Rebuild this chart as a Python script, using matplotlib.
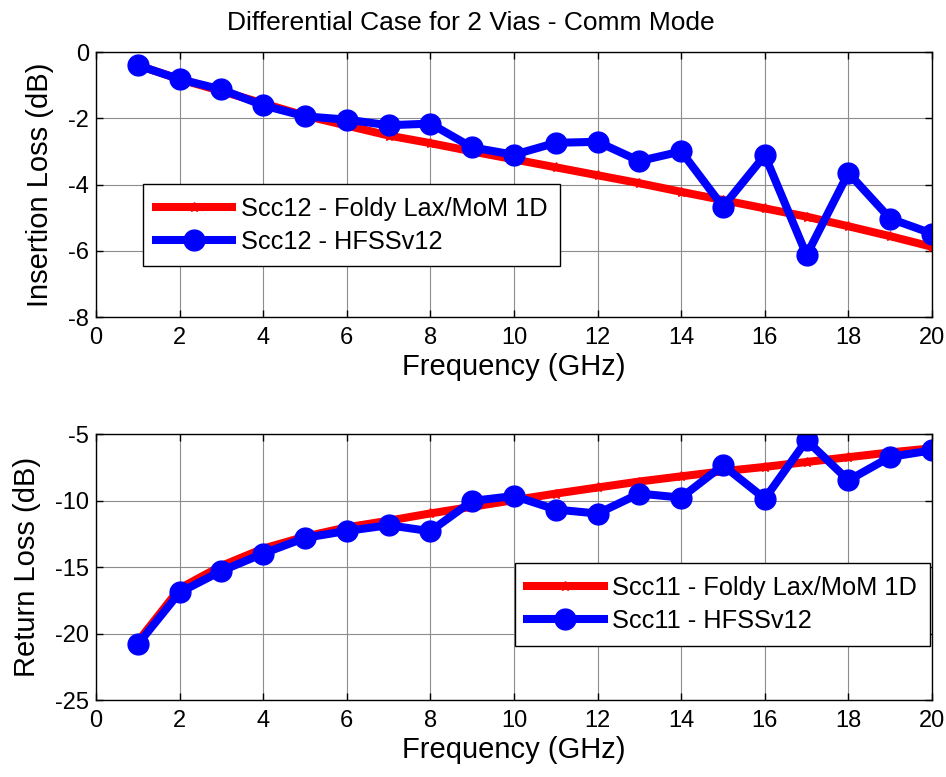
import matplotlib
matplotlib.use("Agg")
import matplotlib.pyplot as plt

plt.rcParams['font.family'] = ['Liberation Sans', 'DejaVu Sans']
plt.rcParams['axes.unicode_minus'] = False

freq = list(range(1, 21))

# Insertion loss (dB)
scc12Foldy = [-0.40, -0.82, -1.18, -1.55, -1.92, -2.22, -2.52, -2.75, -3.00, -3.24,
              -3.48, -3.72, -3.96, -4.22, -4.47, -4.72, -4.97, -5.26, -5.56, -5.88]
scc12Hfss = [-0.40, -0.82, -1.13, -1.61, -1.94, -2.04, -2.21, -2.16, -2.88, -3.10,
             -2.74, -2.71, -3.29, -3.00, -4.67, -3.12, -6.13, -3.65, -5.03, -5.48]

# Return loss (dB)
scc11Foldy = [-20.6, -16.6, -14.9, -13.6, -12.7, -12.0, -11.5, -10.95, -10.45, -9.95,
              -9.46, -9.00, -8.55, -8.16, -7.78, -7.45, -7.08, -6.72, -6.36, -6.05]
scc11Hfss = [-20.8, -16.9, -15.28, -13.97, -12.79, -12.27, -11.84, -12.29, -10.01, -9.64,
             -10.66, -10.96, -9.46, -9.76, -7.33, -9.84, -5.45, -8.46, -6.70, -6.20]

xTicks = list(range(0, 21, 2))
topTicks = [0, -2, -4, -6, -8]
bottomTicks = [-5, -10, -15, -20, -25]

fig = plt.figure(figsize=(9.46, 7.77), dpi=100)
fig.patch.set_facecolor('white')

axTop = fig.add_axes([0.1015, 0.592, 0.8837, 0.341])
axBottom = fig.add_axes([0.1015, 0.099, 0.8837, 0.342])


def styleAxis(ax, yTicks, yLim, ylabel):
    ax.set_xlim(0, 20)
    ax.set_ylim(*yLim)
    ax.set_xticks(xTicks)
    ax.set_yticks(yTicks)
    ax.grid(True, color='#8c8c8c', linestyle='-', linewidth=0.8)
    ax.set_axisbelow(True)
    ax.tick_params(direction='in', length=5, width=1, top=True, right=True,
                   labelsize=17, colors='black')
    ax.tick_params(axis='x', pad=7)
    ax.tick_params(axis='y', pad=5)
    for spine in ax.spines.values():
        spine.set_linewidth(1.0)
        spine.set_color('black')
    ax.set_xlabel('Frequency (GHz)', fontsize=21, labelpad=3)
    ax.set_ylabel(ylabel, fontsize=21, labelpad=10)


def addLegend(ax, anchor, loc):
    leg = ax.legend(loc=loc, bbox_to_anchor=anchor, borderaxespad=0,
                    fontsize=18.3, frameon=True, fancybox=False, edgecolor='black',
                    framealpha=1, handlelength=3.0, handletextpad=0.35,
                    labelspacing=0.35, borderpad=0.5)
    leg.get_frame().set_linewidth(1.0)


axTop.plot(freq, scc12Foldy, color='red', linewidth=5.8, marker='*', markersize=7,
           label='Scc12 - Foldy Lax/MoM 1D')
axTop.plot(freq, scc12Hfss, color='blue', linewidth=5.8, marker='o', markersize=15,
           label='Scc12 - HFSSv12')
styleAxis(axTop, topTicks, (-8, 0), 'Insertion Loss (dB)')
axTop.set_title('Differential Case for 2 Vias - Comm Mode', fontsize=19, pad=16, x=0.4486)
addLegend(axTop, (0.056, 0.502), 'upper left')

axBottom.plot(freq, scc11Foldy, color='red', linewidth=5.8, marker='*', markersize=7,
              label='Scc11 - Foldy Lax/MoM 1D')
axBottom.plot(freq, scc11Hfss, color='blue', linewidth=5.8, marker='o', markersize=15,
              label='Scc11 - HFSSv12')
styleAxis(axBottom, bottomTicks, (-25, -5), 'Return Loss (dB)')
addLegend(axBottom, (0.9976, 0.515), 'upper right')

fig.savefig('out.png', dpi=100, facecolor='white')
